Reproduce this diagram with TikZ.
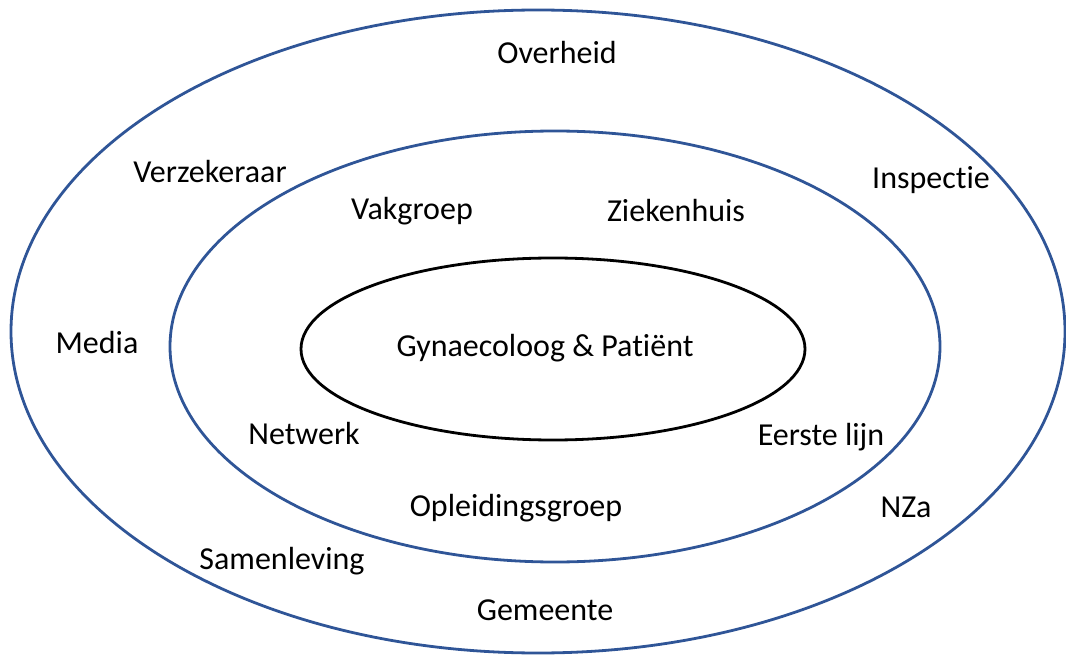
\documentclass[tikz,border=0pt]{standalone}
\usepackage{fontspec}
\setmainfont{Carlito}[Ligatures=NoCommon]
\definecolor{ringblue}{HTML}{2F5597}
\begin{document}
\begin{tikzpicture}[x=1pt,y=-1pt,
  ring/.style={draw=ringblue,line width=2.8pt},
  core/.style={draw=black,line width=2.8pt},
  lbl/.style={inner sep=0pt,font=\fontsize{32}{38}\selectfont}]
\useasboundingbox (0,0) rectangle (1066,655);
\draw[ring] (538,331.5) ellipse [x radius=527, y radius=321.5];
\draw[ring] (555,346.5) ellipse [x radius=385, y radius=215.5];
\draw[core] (553,349) ellipse [x radius=252, y radius=91];
\node[lbl] (overheid) at (557,53) {Overheid};
\node[lbl] (verz) at (210,172) {Verzekeraar};
\node[lbl] (insp) at (931,180) {Inspectie};
\node[lbl] (vak) at (412,211) {Vakgroep};
\node[lbl] (zh) at (676,211) {Ziekenhuis};
\node[lbl] (media) at (97,343) {Media};
\node[lbl] (gp) at (545,348) {Gynaecoloog \& Patiënt};
\node[lbl] (net) at (304,434) {Netwerk};
\node[lbl] (eerste) at (821,437) {Eerste lijn};
\node[lbl] (opl) at (516,508) {Opleidingsgroep};
\node[lbl] (nza) at (906,507) {NZa};
\node[lbl] (samen) at (282,561) {Samenleving};
\node[lbl] (gem) at (545,610) {Gemeente};
\end{tikzpicture}
\end{document}
